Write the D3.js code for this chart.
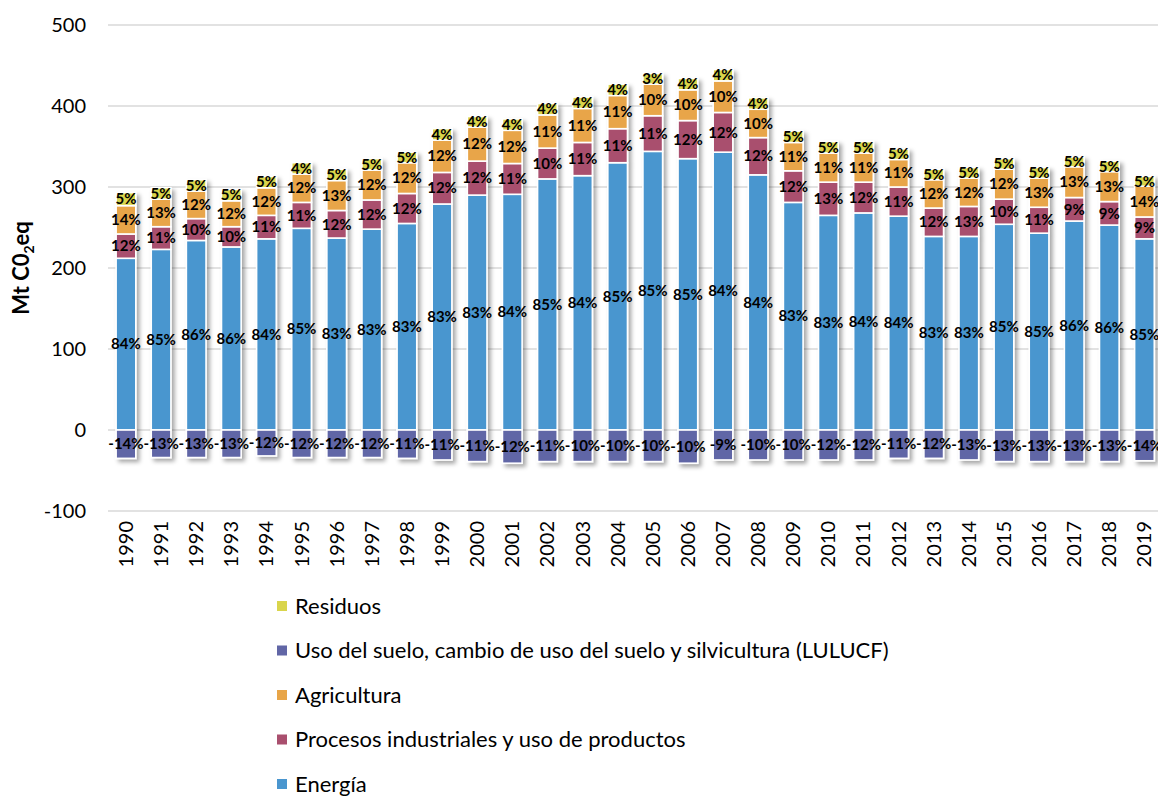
<!DOCTYPE html>
<html><head><meta charset="utf-8">
<script src="https://cdn.jsdelivr.net/npm/d3@7"></script>
<style>
html,body{margin:0;padding:0;background:#fff;}
svg{display:block;font-family:Lato,"Open Sans",sans-serif;}
</style></head>
<body><svg id="c" width="1158" height="798"></svg>
<script>
const years = ["1990","1991","1992","1993","1994","1995","1996","1997","1998","1999","2000","2001","2002","2003","2004","2005","2006","2007","2008","2009","2010","2011","2012","2013","2014","2015","2016","2017","2018","2019"];
const energia      = [212,223,234,226,236,249,237,248,255,279,290,291,310,314,330,344,335,343,315,281,265,268,264,239,239,254,243,258,253,236];
const procesos     = [30,28,27,25,29,32,34,36,37,39,42,38,38,41,42,44,47,49,46,39,41,38,36,35,37,31,32,29,29,27];
const agricultura  = [35,34,34,32,34,35,37,37,38,40,42,41,41,42,41,39,38,39,35,35,36,36,34,35,35,37,36,38,37,38];
const residuos     = [16,14,14,14,14,14,14,14,13,14,13,14,14,14,14,13,14,14,14,14,14,14,13,13,13,13,13,12,13,12];
const lulucf       = [-35,-34,-34,-34,-32,-34,-34,-34,-35,-37,-39,-41,-39,-39,-39,-39,-41,-37,-37,-37,-37,-37,-35,-35,-37,-39,-39,-39,-39,-38];

const pctEnergia     = [84,85,86,86,84,85,83,83,83,83,83,84,85,84,85,85,85,84,84,83,83,84,84,83,83,85,85,86,86,85];
const pctProcesos    = [12,11,10,10,11,11,12,12,12,12,12,11,10,11,11,11,12,12,12,12,13,12,11,12,13,10,11,9,9,9];
const pctAgricultura = [14,13,12,12,12,12,13,12,12,12,12,12,11,11,11,10,10,10,10,11,11,11,11,12,12,12,13,13,13,14];
const pctResiduos    = [5,5,5,5,5,4,5,5,5,4,4,4,4,4,4,3,4,4,4,5,5,5,5,5,5,5,5,5,5,5];
const pctLulucf      = [-14,-13,-13,-13,-12,-12,-12,-12,-11,-11,-11,-12,-11,-10,-10,-10,-10,-9,-10,-10,-12,-12,-11,-12,-13,-13,-13,-13,-13,-14];

const yTicks = [-100,0,100,200,300,400,500];
const seriesNames = ["Energía","Procesos industriales y uso de productos","Agricultura","Uso del suelo, cambio de uso del suelo y silvicultura (LULUCF)","Residuos"];
const legendOrder = ["Residuos","Uso del suelo, cambio de uso del suelo y silvicultura (LULUCF)","Agricultura","Procesos industriales y uso de productos","Energía"];
const colors = {"Energía":"#4a96cf","Procesos industriales y uso de productos":"#a94f6e","Agricultura":"#e8a548","Uso del suelo, cambio de uso del suelo y silvicultura (LULUCF)":"#6166a6","Residuos":"#d9d54c"};

const svg = d3.select("#c");
const defs = svg.append("defs");
const f = defs.append("filter").attr("id","sh").attr("x","-30%").attr("y","-10%").attr("width","170%").attr("height","130%");
f.append("feDropShadow").attr("dx",3).attr("dy",3).attr("stdDeviation",2.2).attr("flood-color","#000").attr("flood-opacity",0.35);

const x = d3.scaleBand().domain(years).range([108.4,1162]).paddingInner(0.44).paddingOuter(0.22);
const y = d3.scaleLinear().domain([-100,500]).range([511,25]);

// gridlines
svg.append("g").selectAll("line").data(yTicks).join("line")
  .attr("x1",108).attr("x2",1158).attr("y1",d=>y(d)).attr("y2",d=>y(d))
  .attr("stroke","#d9d9d9").attr("stroke-width",1.3);

// y axis labels
const yAxis = d3.axisLeft(y).tickValues(yTicks).tickSize(0).tickPadding(0).tickFormat(d=>String(d));
const gy = svg.append("g").attr("transform","translate(86,0)").call(yAxis);
gy.select(".domain").remove();
gy.selectAll("text").attr("font-size",20).attr("fill","#000").attr("font-family","Lato,'Open Sans',sans-serif");

// x axis labels
const xAxis = d3.axisBottom(x).tickSize(0).tickPadding(0);
const gx = svg.append("g").attr("transform","translate(0,521)").call(xAxis);
gx.select(".domain").remove();
gx.selectAll("text").attr("font-size",20).attr("fill","#000").attr("font-family","Lato,'Open Sans',sans-serif")
  .attr("transform","rotate(-90)").attr("text-anchor","end").attr("dx",0).attr("dy","0.35em").attr("y",0).attr("x",0);

// stack
const rows = years.map((yr,i)=>({year:yr,"Energía":energia[i],"Procesos industriales y uso de productos":procesos[i],"Agricultura":agricultura[i],"Residuos":residuos[i],"Uso del suelo, cambio de uso del suelo y silvicultura (LULUCF)":lulucf[i]}));
const stack = d3.stack().keys(seriesNames).offset(d3.stackOffsetDiverging);
const stacked = stack(rows);
const pcts = {"Energía":pctEnergia,"Procesos industriales y uso de productos":pctProcesos,"Agricultura":pctAgricultura,"Residuos":pctResiduos,"Uso del suelo, cambio de uso del suelo y silvicultura (LULUCF)":pctLulucf};

const gBars = svg.append("g").attr("filter","url(#sh)");
stacked.forEach(s=>{
  gBars.selectAll(null).data(s).join("rect")
    .attr("x",d=>x(d.data.year)).attr("width",x.bandwidth())
    .attr("y",d=>y(Math.max(d[0],d[1]))).attr("height",d=>Math.abs(y(d[0])-y(d[1])))
    .attr("fill",colors[s.key]).attr("stroke","#fff").attr("stroke-width",1.6);
});
const gLab = svg.append("g");
stacked.forEach(s=>{
  gLab.selectAll(null).data(s).join("text")
    .attr("x",d=>x(d.data.year)+x.bandwidth()/2)
    .attr("y",d=>y((d[0]+d[1])/2))
    .attr("dy","0.35em").attr("text-anchor","middle")
    .attr("font-size",15).attr("font-weight","bold").attr("fill","#000")
    .attr("font-family","Lato,'Open Sans',sans-serif")
    .text((d,i)=>pcts[s.key][i]+"%");
});

// y title
const yt = svg.append("text").attr("transform","translate(29,268) rotate(-90)").attr("text-anchor","middle")
  .attr("font-size",22).attr("font-weight","bold").attr("fill","#000");
yt.append("tspan").text("Mt C0");
yt.append("tspan").attr("font-size",14).attr("dy",5).text("2");
yt.append("tspan").attr("dy",-5).text("eq");

// legend
const lg = svg.append("g");
legendOrder.forEach((n,i)=>{
  const cy = 606 + i*44.5;
  lg.append("rect").attr("x",277).attr("y",cy-5).attr("width",10).attr("height",10).attr("fill",colors[n]);
  lg.append("text").attr("x",295).attr("y",cy).attr("dy","0.35em").attr("font-size",22).attr("fill","#000").text(n);
});
</script></body></html>
